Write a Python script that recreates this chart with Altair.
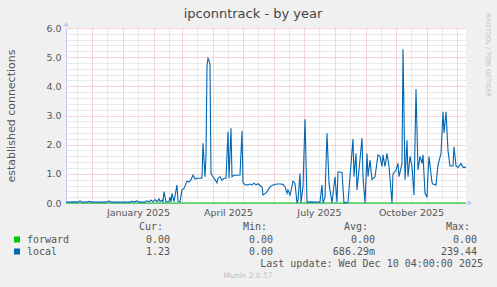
import altair as alt
import pandas as pd

# ---------------- data ----------------
START = "2024-11-05"          # left edge of the graph (400 days before last update)
END_DAYS = 400

day_offsets = [0, 4, 9, 12, 14, 16, 21, 23, 25, 34, 41, 43, 45, 54, 64, 66, 68, 71, 73,
               79, 81, 83, 85, 87, 89, 91, 93, 94, 96, 97, 98, 100, 103, 104, 105, 106,
               108, 111, 112, 114, 116, 118, 121, 123, 125, 127, 129, 131, 134, 136, 137,
               139, 140, 141, 142, 143, 144, 145, 146, 147, 149, 151, 152, 154, 156, 158,
               160, 162, 163, 165, 166, 168, 171, 174, 176, 177, 179, 182, 184, 186, 188,
               190, 192, 194, 196, 197, 199, 201, 202, 204, 207, 211, 214, 217, 219, 221,
               222, 224, 226, 227, 229, 231, 232, 234, 235, 237, 239, 241, 244, 249, 254,
               256, 257, 259, 261, 263, 266, 269, 271, 272, 276, 278, 282, 284, 287, 288,
               290, 291, 293, 296, 297, 299, 301, 302, 304, 306, 309, 312, 314, 316, 317,
               319, 321, 323, 326, 327, 330, 332, 333, 336, 337, 339, 341, 342, 344, 346,
               348, 350, 352, 354, 356, 357, 359, 361, 362, 363, 366, 367, 370, 372, 375,
               377, 378, 380, 382, 384, 387, 388, 390, 392, 395, 397, 400]
local_values = [0.03, 0.03, 0.04, 0.03, 0.07, 0.03, 0.03, 0.06, 0.03, 0.03, 0.03, 0.07, 0.03,
                0.03, 0.03, 0.06, 0.03, 0.07, 0.03, 0.03, 0.08, 0.03, 0.10, 0.04, 0.12,
                0.05, 0.14, 0.05, 0.10, 0.04, 0.39, 0.04, 0.05, 0.20, 0.04, 0.33, 0.05,
                0.62, 0.05, 0.04, 0.45, 0.50, 0.75, 0.72, 0.80, 0.96, 0.82, 0.85, 0.85,
                0.86, 2.05, 0.90, 1.60, 4.70, 4.96, 4.90, 4.73, 1.02, 0.95, 0.90, 0.80,
                0.69, 0.85, 0.90, 0.78, 0.85, 0.85, 2.44, 0.85, 2.56, 0.90, 0.95, 0.95,
                0.96, 2.47, 0.70, 0.63, 0.62, 0.65, 0.62, 0.68, 0.62, 0.66, 0.60, 0.55,
                0.27, 0.32, 0.39, 0.45, 0.55, 0.62, 0.65, 0.65, 0.64, 0.56, 0.33, 0.45,
                0.27, 0.56, 0.75, 0.67, 0.00, 0.10, 1.02, 0.00, 0.56, 2.87, 0.03, 0.04,
                0.03, 0.03, 0.62, 0.00, 0.20, 2.39, 0.67, 0.00, 0.90, 0.03, 1.07, 1.05,
                0.00, 0.03, 0.90, 2.19, 0.90, 1.70, 0.45, 1.13, 2.22, 0.90, 0.00, 1.70,
                0.90, 1.47, 0.80, 0.90, 1.65, 1.60, 1.25, 1.65, 1.25, 1.70, 1.25, 0.00,
                1.00, 1.13, 1.36, 0.90, 1.36, 5.27, 0.80, 2.15, 0.90, 1.60, 1.25, 0.27,
                3.90, 1.13, 1.60, 1.36, 1.65, 0.34, 0.20, 1.00, 1.59, 0.70, 0.65, 0.62,
                1.30, 1.70, 3.13, 2.40, 3.13, 1.80, 1.27, 1.27, 1.93, 1.27, 1.22, 1.35,
                1.22, 1.23]
forward_days = [0, 400]
forward_values = [0.0, 0.0]

series_names = ["forward", "local"]
series_colors = ["#00CC00", "#0066B3"]
legend_headers = ["Cur:", "Min:", "Avg:", "Max:"]
legend_rows = [["0.00", "0.00", "0.00", "0.00"],
               ["1.23", "0.00", "686.29m", "239.44"]]
title_text = "ipconntrack - by year"
y_title = "established connections"
last_update = "Last update: Wed Dec 10 04:00:00 2025"
footer = "Munin 2.0.57"
watermark = "RRDTOOL / TOBI OETIKER"

# ---------------- tables ----------------
start = pd.Timestamp(START, tz="UTC")
def to_ms(d):
    return int((start + pd.Timedelta(days=d)).timestamp() * 1000)

local_df = pd.DataFrame({"t": [to_ms(d) for d in day_offsets], "v": local_values})
fwd_df = pd.DataFrame({"t": [to_ms(d) for d in forward_days], "v": forward_values})

x_dom = [to_ms(0), to_ms(END_DAYS)]
grid_vals = []
for m in pd.date_range("2024-11-01", "2025-12-31", freq="MS", tz="UTC"):
    for day in (1, 16):
        ts = m + pd.Timedelta(days=day - 1)
        ms = int(ts.timestamp() * 1000)
        if x_dom[0] <= ms <= x_dom[1]:
            grid_vals.append(ms)
y_vals = [round(i * 0.2, 1) for i in range(31)]

# ---------------- layout ----------------
L, T, W, H = 66, 28, 400, 175
BG = "#F0F0F0"
MAJOR = "#EBAAAA"
MINOR = "#D4D4D4"
AXISC = "#C8C8F5"
TXT = "#555555"

x_axis = alt.Axis(values=grid_vals, title=None, tickSize=0, labelPadding=4,
                  labelFont="DejaVu Sans", labelFontSize=9.5, labelColor=TXT,
                  labelOverlap=False, labelFlush=False, labelBound=False, domainColor=AXISC,
                  gridColor={"condition": {"test": "utcdate(datum.value) === 1", "value": MAJOR}, "value": MINOR},
                  gridDash=[1, 1], gridOpacity=1, gridWidth=1,
                  labelExpr="utcdate(datum.value) === 16 && utcmonth(datum.value) % 3 === 0 ? utcFormat(datum.value, '%B %Y') : ''")
y_axis = alt.Axis(values=y_vals, title=y_title, titleFont="DejaVu Sans", titleFontSize=11,
                  titleFontWeight="normal", titleColor=TXT, titlePadding=29,
                  tickSize=0, labelPadding=5, labelFont="DejaVu Sans", labelFontSize=9.5,
                  labelColor=TXT, domainColor=AXISC, labelOverlap=False, labelBound=False,
                  labelFlush=False,
                  gridColor={"condition": {"test": "abs(datum.value - round(datum.value)) < 0.001", "value": MAJOR}, "value": MINOR},
                  gridDash=[1, 1], gridOpacity=1, gridWidth=1,
                  labelExpr="abs(datum.value - round(datum.value)) < 0.001 ? format(datum.value, '.1f') : ''")

x_enc = alt.X("t:T", scale=alt.Scale(type="utc", domain=x_dom), axis=x_axis)
y_enc = alt.Y("v:Q", scale=alt.Scale(domain=[0, 6], nice=False, zero=True), axis=y_axis)

fwd_line = alt.Chart(fwd_df).mark_line(color=series_colors[0], strokeWidth=1).encode(x=x_enc, y=y_enc)
local_line = alt.Chart(local_df).mark_line(color=series_colors[1], strokeWidth=1.1).encode(x=x_enc, y=y_enc)

layers = [fwd_line, local_line]

def text(s, x, y, size=10, font="DejaVu Sans Mono", color=TXT, align="left", angle=0):
    return alt.Chart(local_df.head(1)).mark_text(
        text=s, font=font, fontSize=size, color=color, align=align, baseline="middle", angle=angle
    ).encode(x=alt.value(x - L), y=alt.value(y - T))

# arrows at axis ends
layers.append(alt.Chart(local_df.head(1)).mark_point(shape="triangle-up", filled=True, color=AXISC, size=30, opacity=1)
              .encode(x=alt.value(0), y=alt.value(-4)))
layers.append(alt.Chart(local_df.head(1)).mark_point(shape="triangle-right", filled=True, color=AXISC, size=30, opacity=1)
              .encode(x=alt.value(W + 4), y=alt.value(H)))

# title & misc
layers.append(text(title_text, 253, 14, size=13, font="DejaVu Sans", color="#444444", align="center"))
layers.append(text(watermark, 488, 55, size=6.5, font="DejaVu Sans", color="#C4C4C4", align="center", angle=90))

# legend
hdr_right = [163, 267, 368, 470]
val_right = [170, 273, 375, 477]
for h, xr in zip(legend_headers, hdr_right):
    layers.append(text(h, xr, 227, align="right"))
row_y = [239.5, 251.5]
for name, col, vals, ry in zip(series_names, series_colors, legend_rows, row_y):
    layers.append(alt.Chart(local_df.head(1)).mark_square(color=col, size=36, opacity=1)
                  .encode(x=alt.value(17 - L), y=alt.value(ry - T)))
    layers.append(text(name, 27, ry))
    for v, xr in zip(vals, val_right):
        layers.append(text(v, xr, ry, align="right"))
layers.append(text(last_update, 483, 263.5, align="right"))
layers.append(text(footer, 248, 276, size=7.5, font="DejaVu Sans", color="#C0C0C0", align="center"))

chart = alt.layer(*layers).properties(
    width=W, height=H,
    autosize=alt.AutoSizeParams(type="none"),
    padding={"left": L, "top": T, "right": 497 - L - W, "bottom": 287 - T - H},
    background=BG,
).configure_view(fill="white", stroke=None)

chart.save("out.html", embed_options={"renderer": "svg", "actions": False})
